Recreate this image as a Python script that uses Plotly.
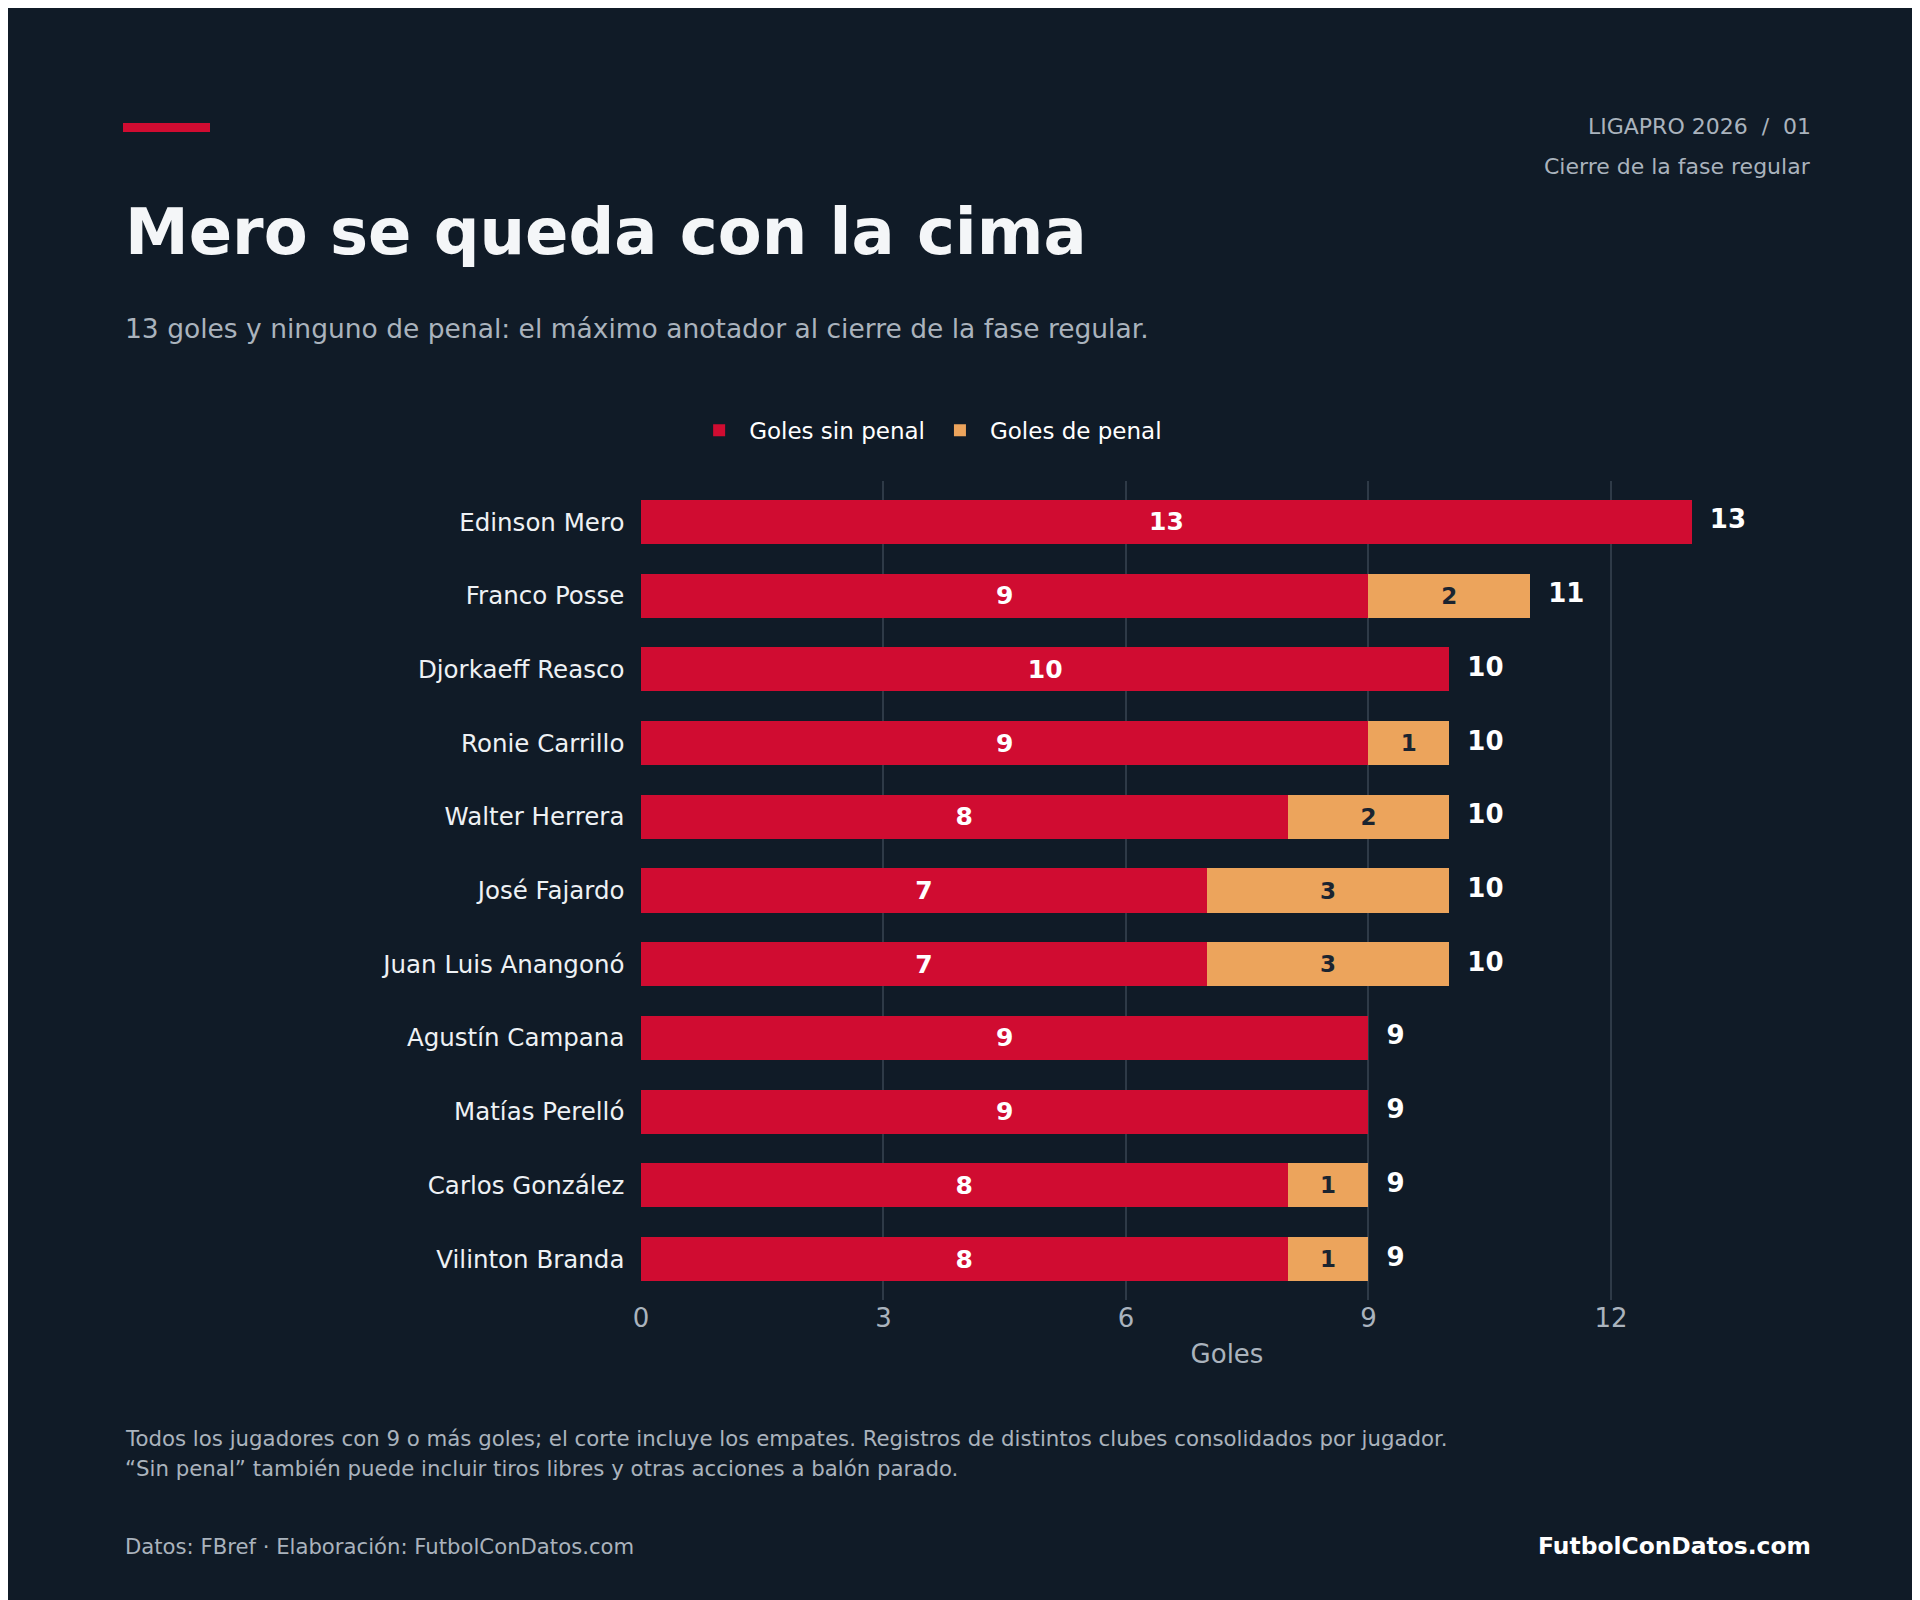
import plotly.graph_objects as go

# datos de goleadores
jugadores = ["Edinson Mero", "Franco Posse", "Djorkaeff Reasco", "Ronie Carrillo",
             "Walter Herrera", "José Fajardo", "Juan Luis Anangonó", "Agustín Campana",
             "Matías Perelló", "Carlos González", "Vilinton Branda"]
sin_penal = [13, 9, 10, 9, 8, 7, 7, 9, 9, 8, 8]
de_penal = [0, 2, 0, 1, 2, 3, 3, 0, 0, 1, 1]
totales = [a + b for a, b in zip(sin_penal, de_penal)]

BG = "#101b27"
ROJO = "#d00c31"
NARANJA = "#eca45c"
GRIS = "#aab3bd"
FONT = "DejaVu Sans"

fig = go.Figure()
fig.add_trace(go.Bar(name="Goles sin penal", y=jugadores, x=sin_penal, orientation="h",
                     marker=dict(color=ROJO, line_width=0), text=sin_penal,
                     textposition="inside", insidetextanchor="middle",
                     textfont=dict(color="white", size=25, family=FONT, weight="bold")))
fig.add_trace(go.Bar(name="Goles de penal", y=jugadores, x=de_penal, orientation="h",
                     marker=dict(color=NARANJA, line_width=0),
                     text=[str(v) if v else "" for v in de_penal], textposition="inside",
                     insidetextanchor="middle",
                     textfont=dict(color="#1b2430", size=23, family=FONT, weight="bold")))
fig.add_trace(go.Scatter(y=jugadores, x=totales, mode="text", text=totales,
                         texttemplate="  %{text}", textposition="middle right",
                         showlegend=False,
                         textfont=dict(color="white", size=26, family=FONT, weight="bold"),
                         cliponaxis=False, hoverinfo="skip"))

fig.update_layout(
    width=1920, height=1600, barmode="stack", bargap=0.4,
    paper_bgcolor=BG, plot_bgcolor=BG,
    font=dict(family=FONT, color="white"),
    margin=dict(l=633, r=115, t=473, b=308),
    legend=dict(orientation="h", x=0.245, xanchor="center", y=1.062, yanchor="middle",
                font=dict(size=23, color="white"), traceorder="normal", itemwidth=50),
    xaxis=dict(range=[0, 14.5], tickvals=[0, 3, 6, 9, 12], showgrid=True,
               gridcolor="#2e3a47", gridwidth=1.5, zeroline=False,
               tickfont=dict(size=26, color=GRIS),
               title=dict(text="Goles", font=dict(size=26, color=GRIS), standoff=12)),
    yaxis=dict(autorange="reversed", tickfont=dict(size=24.5, color="#eef1f4"),
               ticksuffix="  ", showgrid=False),
)

# barra de acento arriba a la izquierda
fig.add_shape(type="rect", xref="paper", yref="paper",
              x0=(115 - 633) / 1172, x1=(202 - 633) / 1172,
              y0=(1292 - 115) / 819, y1=(1292 - 124) / 819,
              fillcolor=ROJO, line_width=0)

notas = [
    dict(x=115, y=224, text="<b>Mero se queda con la cima</b>", size=64, color="#f4f6f8"),
    dict(x=115, y=320, text="13 goles y ninguno de penal: el máximo anotador al cierre de la fase regular.", size=26.5, color=GRIS),
    dict(x=115, y=1430, text="Todos los jugadores con 9 o más goles; el corte incluye los empates. Registros de distintos clubes consolidados por jugador.", size=21.3, color=GRIS),
    dict(x=115, y=1460, text="“Sin penal” también puede incluir tiros libres y otras acciones a balón parado.", size=21.3, color=GRIS),
    dict(x=115, y=1538, text="Datos: FBref · Elaboración: FutbolConDatos.com", size=21.2, color=GRIS),
]
for n in notas:
    fig.add_annotation(xref="paper", yref="paper", x=(n["x"] - 633) / 1172,
                       y=(1292 - n["y"]) / 819, xanchor="left", yanchor="middle",
                       text=n["text"], showarrow=False,
                       font=dict(size=n["size"], color=n["color"], family=FONT))
derecha = [
    dict(y=118, text="LIGAPRO 2026  /  01", size=22, color=GRIS),
    dict(y=158, text="Cierre de la fase regular", size=22, color=GRIS),
    dict(y=1538, text="<b>FutbolConDatos.com</b>", size=23.4, color="white"),
]
for n in derecha:
    fig.add_annotation(xref="paper", yref="paper", x=(1805 - 633) / 1172,
                       y=(1292 - n["y"]) / 819, xanchor="right", yanchor="middle",
                       text=n["text"], showarrow=False,
                       font=dict(size=n["size"], color=n["color"], family=FONT))

fig.write_html("out.html")
